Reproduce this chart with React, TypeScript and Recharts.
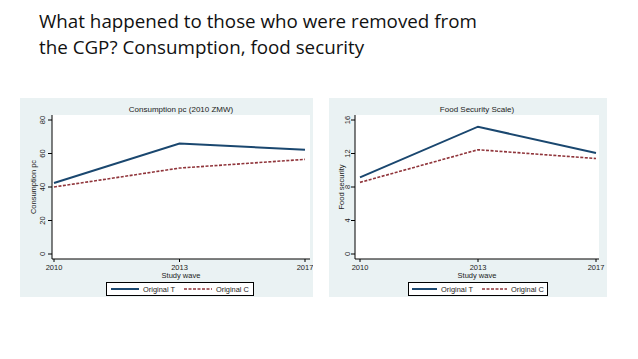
import React from "react";
import { LineChart, Line, XAxis, YAxis, CartesianGrid } from "recharts";

const years = ["2010", "2013", "2017"];
const consumptionT = [42.4, 66.0, 62.3];
const consumptionC = [40.0, 51.3, 56.5];
const foodT = [9.15, 15.2, 12.05];
const foodC = [8.55, 12.45, 11.4];
const consumptionTicks = [0, 20, 40, 60, 80];
const foodTicks = [0, 4, 8, 12, 16];

const NAVY = "#1a476f";
const MAROON = "#90353b";
const REGION = "#eaf2f3";
const FONT = "'Liberation Sans', Arial, sans-serif";

const RotatedTick = (props: any) => {
  const { x, y, payload } = props;
  return (
    <text
      x={x}
      y={y}
      transform={`rotate(-90, ${x}, ${y})`}
      textAnchor="middle"
      fontSize={7.5}
      fontFamily={FONT}
      fill="#222"
    >
      {payload.value}
    </text>
  );
};

type PanelProps = {
  left: number;
  top: number;
  width: number;
  height: number;
  yWidth: number;
  yTickMargin: number;
  labelOffset: number;
  right: number;
  title: string;
  yLabel: string;
  tValues: number[];
  cValues: number[];
  ticks: number[];
  padLeft: number;
  padRight: number;
};

const Panel: React.FC<PanelProps> = ({
  left,
  top,
  width,
  height,
  yWidth,
  yTickMargin,
  labelOffset,
  right,
  title,
  yLabel,
  tValues,
  cValues,
  ticks,
  padLeft,
  padRight,
}) => {
  const data = years.map((year, i) => ({
    year,
    t: tValues[i],
    c: cValues[i],
  }));
  const plotLeft = yWidth;
  const plotRight = width - right;
  const plotCenter = (plotLeft + plotRight) / 2;
  return (
    <div
      style={{
        position: "absolute",
        left,
        top,
        width,
        height,
        background: REGION,
      }}
    >
      <div
        style={{
          position: "absolute",
          top: 7,
          left: plotCenter - 100,
          width: 200,
          textAlign: "center",
          fontFamily: FONT,
          fontSize: 8,
          color: "#222",
        }}
      >
        {title}
      </div>
      <LineChart
        width={width}
        height={height}
        data={data}
        margin={{ top: 17, right, bottom: 18, left: 0 }}
      >
        <rect x={plotLeft} y={17} width={plotRight - plotLeft} height={height - 17 - 38} fill="#fff" />
        <CartesianGrid
          vertical={false}
          stroke={REGION}
          strokeWidth={1}
          horizontalValues={ticks.slice(1)}
        />
        <XAxis
          dataKey="year"
          height={20}
          padding={{ left: padLeft, right: padRight }}
          tickSize={3}
          tickMargin={3}
          axisLine={{ stroke: "#000" }}
          tickLine={{ stroke: "#000" }}
          tick={{ fontSize: 7.5, fontFamily: FONT, fill: "#222" }}
          interval={0}
          label={{
            value: "Study wave",
            position: "insideBottom",
            offset: 1,
            fontSize: 7.5,
            fontFamily: FONT,
            fill: "#222",
          }}
        />
        <YAxis
          width={yWidth}
          domain={[ticks[0], ticks[ticks.length - 1]]}
          ticks={ticks}
          padding={{ top: 5, bottom: 5 }}
          tickSize={4}
          tickMargin={yTickMargin}
          axisLine={{ stroke: "#000" }}
          tickLine={{ stroke: "#000" }}
          tick={<RotatedTick />}
          interval={0}
          label={{
            value: yLabel,
            angle: -90,
            position: "insideLeft",
            offset: labelOffset,
            style: { textAnchor: "middle" },
            fontSize: 7.5,
            fontFamily: FONT,
            fill: "#222",
          }}
        />
        <Line
          dataKey="t"
          type="linear"
          stroke={NAVY}
          strokeWidth={2}
          dot={false}
          isAnimationActive={false}
        />
        <Line
          dataKey="c"
          type="linear"
          stroke={MAROON}
          strokeWidth={1.6}
          strokeDasharray="3 1.5"
          dot={false}
          isAnimationActive={false}
        />
      </LineChart>
    </div>
  );
};

const Legend: React.FC<{ left: number; top: number; width: number; sample: number }> = ({
  left,
  top,
  width,
  sample,
}) => (
  <div
    style={{
      position: "absolute",
      left,
      top,
      width,
      height: 14,
      boxSizing: "border-box",
      border: "1px solid #000",
      background: "#fff",
      display: "flex",
      alignItems: "center",
      justifyContent: "center",
      fontFamily: FONT,
      fontSize: 7.4,
      color: "#222",
      whiteSpace: "nowrap",
    }}
  >
    <svg width={sample} height={6} style={{ flexShrink: 0 }}>
      <line x1={0} y1={3} x2={sample} y2={3} stroke={NAVY} strokeWidth={2} />
    </svg>
    <span style={{ marginLeft: 4, marginRight: 9, flexShrink: 0 }}>Original T</span>
    <svg width={sample} height={6} style={{ flexShrink: 0 }}>
      <line
        x1={0}
        y1={3}
        x2={sample}
        y2={3}
        stroke={MAROON}
        strokeWidth={1.6}
        strokeDasharray="3 1.5"
      />
    </svg>
    <span style={{ marginLeft: 4, flexShrink: 0 }}>Original C</span>
  </div>
);

export default function App() {
  return (
    <div
      style={{
        position: "absolute",
        left: 0,
        top: 0,
        width: 638,
        height: 359,
        background: "#fff",
        overflow: "hidden",
      }}
    >
      <div
        style={{
          position: "absolute",
          left: 39,
          top: 8,
          fontFamily: "'Open Sans', sans-serif",
          fontSize: 18.8,
          lineHeight: "26px",
          color: "#111",
          whiteSpace: "nowrap",
        }}
      >
        What happened to those who were removed from
        <br />
        the CGP? Consumption, food security
      </div>
      <Panel
        left={20}
        top={98}
        width={293}
        height={199}
        yWidth={32}
        yTickMargin={3.5}
        labelOffset={13}
        right={3}
        title="Consumption pc (2010 ZMW)"
        yLabel="Consumption pc"
        tValues={consumptionT}
        cValues={consumptionC}
        ticks={consumptionTicks}
        padLeft={2}
        padRight={5}
      />
      <Legend left={106} top={282} width={148} sample={28} />
      <Panel
        left={329}
        top={98}
        width={278}
        height={199}
        yWidth={26}
        yTickMargin={1.5}
        labelOffset={12}
        right={8}
        title="Food Security Scale)"
        yLabel="Food security"
        tValues={foodT}
        cValues={foodC}
        ticks={foodTicks}
        padLeft={5}
        padRight={3}
      />
      <Legend left={408} top={282} width={140} sample={25} />
    </div>
  );
}
